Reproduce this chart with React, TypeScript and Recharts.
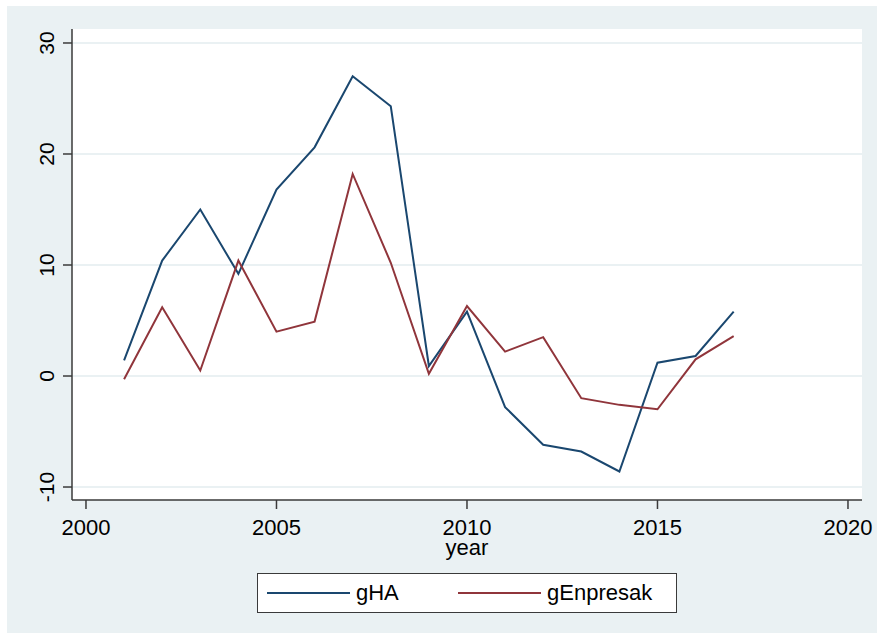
import { LineChart, Line, XAxis, YAxis, CartesianGrid, Label } from 'recharts'

const years = [2001, 2002, 2003, 2004, 2005, 2006, 2007, 2008, 2009, 2010, 2011, 2012, 2013, 2014, 2015, 2016, 2017]
const gHA = [1.4, 10.4, 15.0, 9.2, 16.8, 20.6, 27.0, 24.3, 0.9, 5.8, -2.8, -6.2, -6.8, -8.6, 1.2, 1.8, 5.8]
const gEnpresak = [-0.3, 6.2, 0.5, 10.4, 4.0, 4.9, 18.2, 10.2, 0.2, 6.3, 2.2, 3.5, -2.0, -2.6, -3.0, 1.5, 3.6]
const xTicks = [2000, 2005, 2010, 2015, 2020]
const yTicks = [-10, 0, 10, 20, 30]

const series = [
  { key: 'gHA', color: '#1a476f' },
  { key: 'gEnpresak', color: '#90353b' },
]

const data = years.map((year, i) => ({ year, gHA: gHA[i], gEnpresak: gEnpresak[i] }))

const font = 'Liberation Sans, Arial, sans-serif'
const axisColor = '#3a3a3a'

function YTick({ x, y, payload }: any) {
  const bx = x - 9
  return (
    <text x={bx} y={y} transform={`rotate(-90, ${bx}, ${y})`} textAnchor="middle" fontFamily={font} fontSize={21} fill="#000">
      {payload.value}
    </text>
  )
}

function XTick({ x, y, payload }: any) {
  return (
    <text x={x} y={y + 24} textAnchor="middle" fontFamily={font} fontSize={22} fill="#000">
      {payload.value}
    </text>
  )
}

export default function App() {
  return (
    <div style={{ position: 'absolute', left: 0, top: 0, width: 877, height: 640, background: '#fff' }}>
      <div style={{ position: 'absolute', left: 7, top: 6, width: 870, height: 627, background: '#eaf1f3' }} />
      <div style={{ position: 'absolute', left: 0, top: 0 }}>
        <LineChart width={877} height={640} data={data} margin={{ top: 29, right: 15, left: 0, bottom: 110 }}>
          <CartesianGrid vertical={false} fill="#fff" stroke="#eaf1f3" strokeWidth={2} horizontalValues={yTicks} />
          <XAxis
            dataKey="year"
            type="number"
            domain={[1999.633, 2020.368]}
            ticks={xTicks}
            allowDataOverflow
            height={30}
            tickSize={9}
            tickMargin={2}
            tick={<XTick />}
            axisLine={{ stroke: axisColor, strokeWidth: 1.5 }}
            tickLine={{ stroke: axisColor, strokeWidth: 1.5 }}
          >
            <Label value="year" position="bottom" offset={0} content={({ viewBox }: any) => (
              <text x={viewBox.x + viewBox.width / 2} y={555} textAnchor="middle" fontFamily={font} fontSize={22} fill="#000">year</text>
            )} />
          </XAxis>
          <YAxis
            type="number"
            domain={[-11.17, 31.26]}
            ticks={yTicks}
            allowDataOverflow
            width={72}
            tickSize={9}
            tickMargin={0}
            tick={<YTick />}
            axisLine={{ stroke: axisColor, strokeWidth: 1.5 }}
            tickLine={{ stroke: axisColor, strokeWidth: 1.5 }}
          />
          {series.map(s => (
            <Line key={s.key} type="linear" dataKey={s.key} stroke={s.color} strokeWidth={2} dot={false} isAnimationActive={false} />
          ))}
        </LineChart>
      </div>
      <div style={{ position: 'absolute', left: 257, top: 573, width: 420, height: 40, background: '#fff', border: '1.5px solid #3a3a3a', boxSizing: 'border-box', fontFamily: font, fontSize: 22 }}>
        {series.map((s, i) => (
          <div key={s.key} style={{ position: 'absolute', left: 9 + i * 191, top: 0, height: 38, display: 'flex', alignItems: 'center' }}>
            <div style={{ width: 83, height: 2, background: s.color, marginRight: 6 }} />
            <span>{s.key}</span>
          </div>
        ))}
      </div>
    </div>
  )
}
